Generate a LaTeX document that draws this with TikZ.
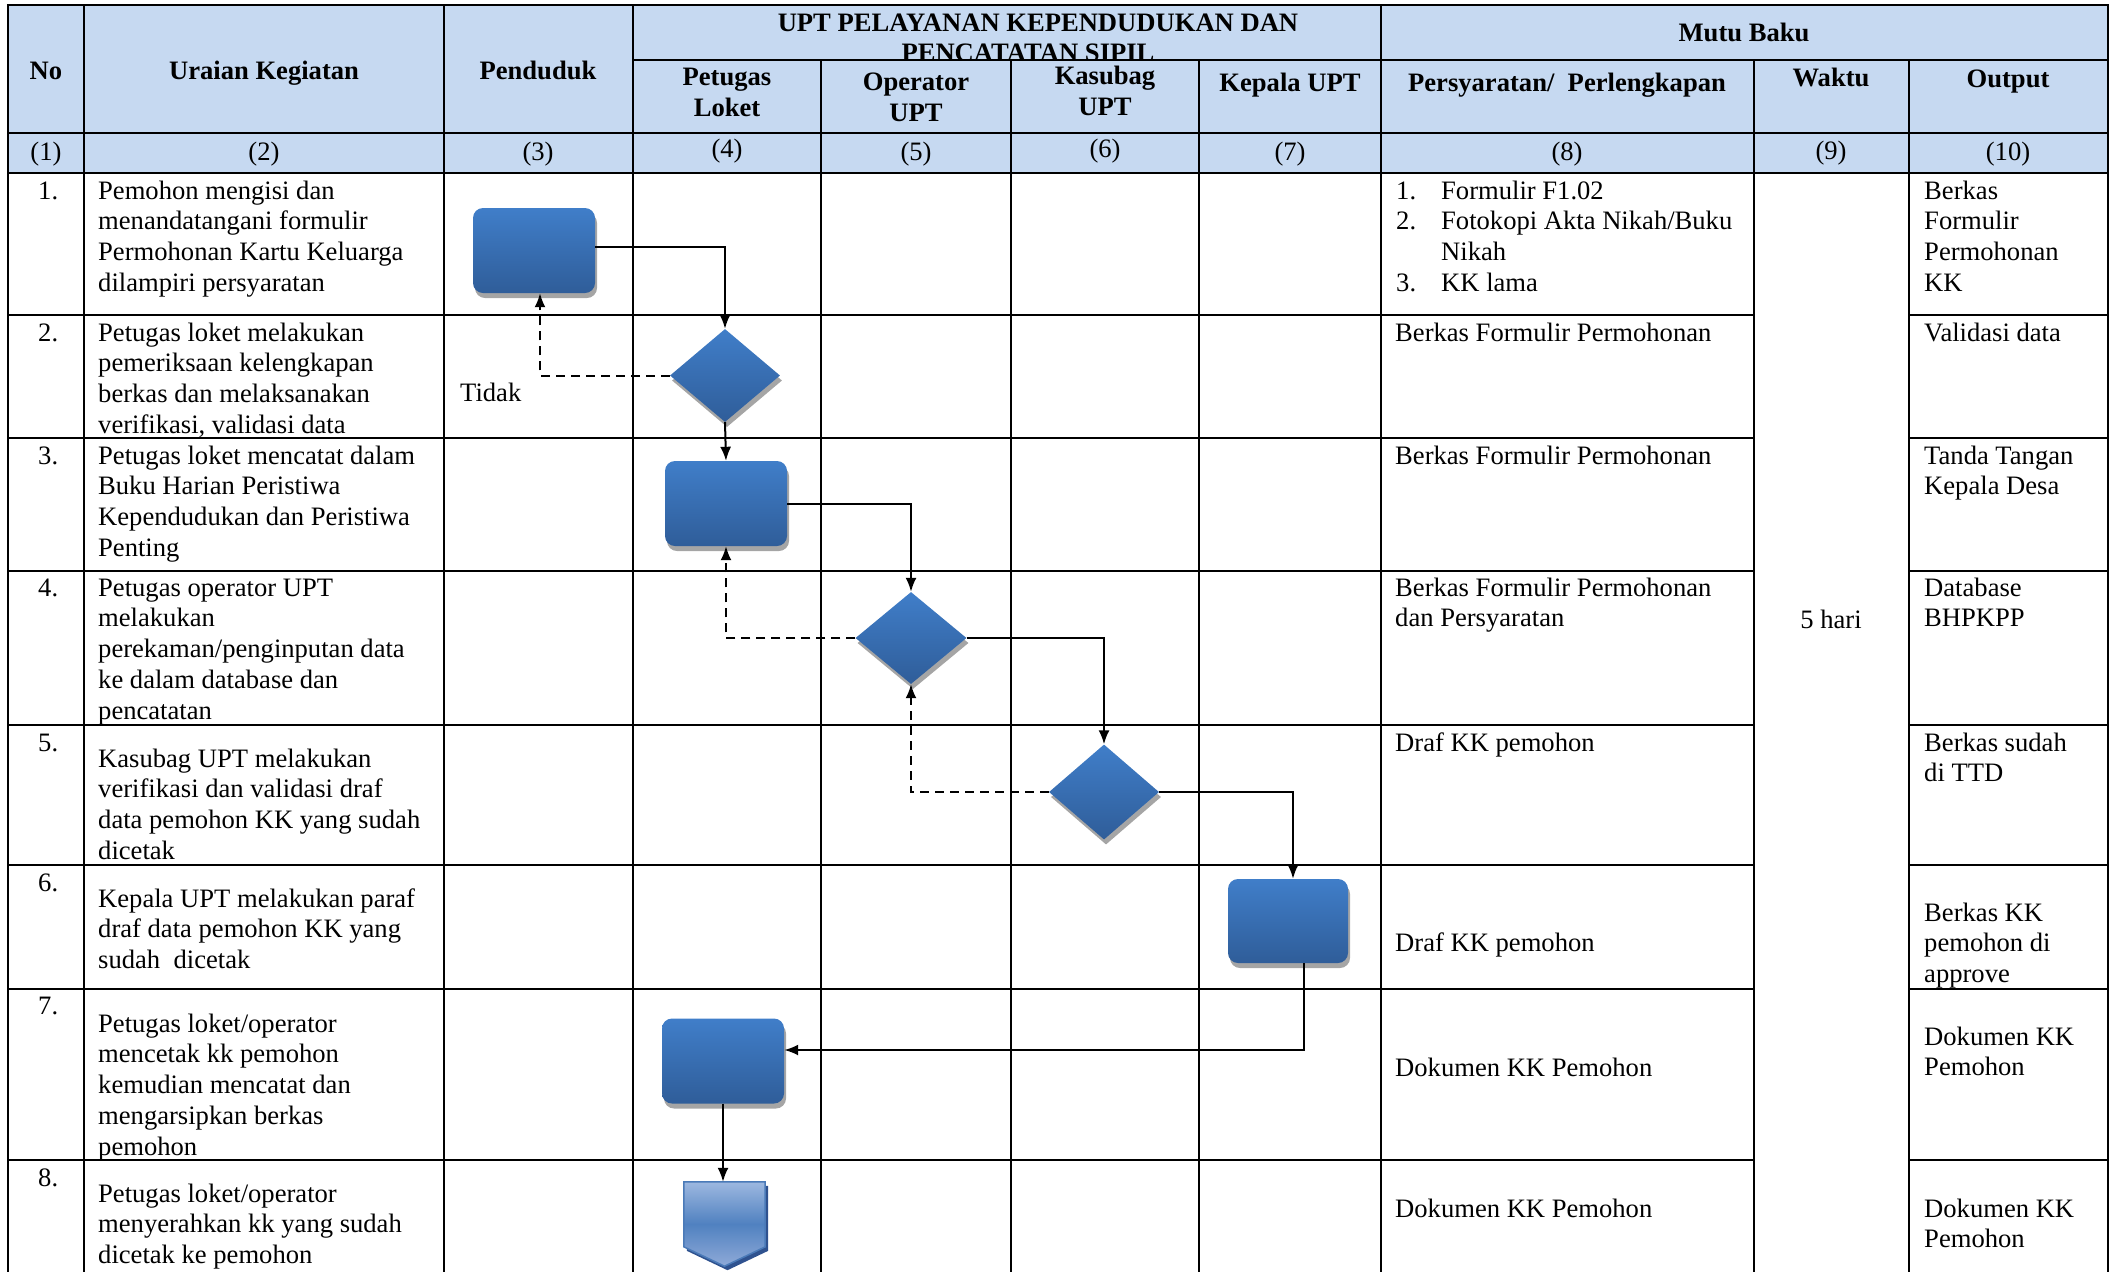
\documentclass[tikz,border=0pt]{standalone}
\usepackage{fontspec}
\setmainfont{Liberation Serif}
\usetikzlibrary{shapes.geometric,arrows.meta,shadows,calc}
\definecolor{hdr}{RGB}{198,217,241}
\definecolor{boxtop}{RGB}{64,126,201}
\definecolor{boxbot}{RGB}{47,93,153}
\definecolor{shadowgray}{RGB}{165,165,165}
\definecolor{penttop}{RGB}{157,184,224}
\definecolor{pentmid}{RGB}{80,129,192}
\definecolor{pentbot}{RGB}{143,170,216}
\definecolor{pentedge}{RGB}{74,122,184}
\definecolor{pentshadow}{RGB}{47,82,143}
\newcommand{\bodyfnt}{\fontsize{26.6}{30.7}\selectfont}
\newcommand{\headfnt}{\fontsize{26.6}{30.7}\selectfont\bfseries}
\newcommand{\fs}{\rule{0pt}{20pt}}
\begin{document}
\begin{tikzpicture}[x=1pt,y=-1pt,
  tline/.style={line width=2.2pt},
  conn/.style={line width=2pt,-{Latex[length=14pt,width=11pt]}},
  back/.style={line width=2pt,dash pattern=on 9pt off 6pt,-{Latex[length=14pt,width=11pt]}},
  proc/.style={rectangle,rounded corners=10pt,minimum width=122pt,minimum height=85pt,inner sep=0pt,
    top color=boxtop,bottom color=boxbot,
    drop shadow={shadow xshift=2pt,shadow yshift=-5pt,fill=shadowgray,opacity=1}},
  dec/.style={diamond,minimum width=110pt,minimum height=93pt,inner sep=0pt,
    top color=boxtop,bottom color=boxbot,
    drop shadow={shadow xshift=2pt,shadow yshift=-5pt,fill=shadowgray,opacity=1}},
  cell/.style={anchor=north west,align=left,inner sep=0pt,font=\bodyfnt},
  hd/.style={anchor=base,inner sep=0pt,font=\headfnt},
  num/.style={anchor=base,inner sep=0pt,font=\bodyfnt}
]
\useasboundingbox (0,0) rectangle (2116,1272);
% header background
\fill[hdr] (8,5) rectangle (2108,173);
% header texts
\node[hd] (hNo) at (46,79) {No};
\node[hd] (hUr) at (264,79) {Uraian Kegiatan};
\node[hd] (hPe) at (538,79) {Penduduk};
\begin{scope}
\clip (633,5) rectangle (1381,59);
\node[hd] (hUpt1) at (1038,31) {UPT PELAYANAN KEPENDUDUKAN DAN};
\node[hd] (hUpt2) at (1028,61.5) {PENCATATAN SIPIL};
\end{scope}
\node[hd] (hMutu) at (1744,41) {Mutu Baku};
\node[hd,align=center] (hPet) at (727,116) {Petugas\\Loket};
\node[hd,align=center] (hOp) at (916,121) {Operator\\UPT};
\node[hd,align=center] (hKas) at (1105,115) {Kasubag\\UPT};
\node[hd] (hKep) at (1290,91) {Kepala UPT};
\node[hd] (hPer) at (1567,91) {Persyaratan/\ \ Perlengkapan};
\node[hd] (hWak) at (1831,86) {Waktu};
\node[hd] (hOut) at (2008,87) {Output};
% number row
\node[num] (c1) at (46,160) {(1)};
\node[num] (c2) at (264,160) {(2)};
\node[num] (c3) at (538,160) {(3)};
\node[num] (c4) at (727,157) {(4)};
\node[num] (c5) at (916,160) {(5)};
\node[num] (c6) at (1105,157) {(6)};
\node[num] (c7) at (1290,160) {(7)};
\node[num] (c8) at (1567,160) {(8)};
\node[num] (c9) at (1831,159) {(9)};
\node[num] (c10) at (2008,160) {(10)};
% table lines
\foreach \x in {8,84,444,633,1381,2108} \draw[tline] (\x,5) -- (\x,1272);
\foreach \x in {821,1011,1199,1754,1909} \draw[tline] (\x,60) -- (\x,1272);
\draw[tline] (6.9,5) -- (2109.1,5);
\draw[tline] (633,60) -- (2108,60);
\draw[tline] (8,133) -- (2108,133);
\draw[tline] (8,173) -- (2108,173);
\foreach \y in {315,438,571,725,865,989,1160} {
  \draw[tline] (8,\y) -- (1754,\y);
  \draw[tline] (1909,\y) -- (2108,\y);
}
% row numbers
\node[cell] (n1) at (38,179) {\fs 1.};
\node[cell] (n2) at (38,321) {\fs 2.};
\node[cell] (n3) at (38,444) {\fs 3.};
\node[cell] (n4) at (38,576) {\fs 4.};
\node[cell] (n5) at (38,731) {\fs 5.};
\node[cell] (n6) at (38,871) {\fs 6.};
\node[cell] (n7) at (38,994) {\fs 7.};
\node[cell] (n8) at (38,1166) {\fs 8.};
% activity descriptions
\node[cell] (t1) at (98,179) {\fs Pemohon mengisi dan\\menandatangani formulir\\Permohonan Kartu Keluarga\\dilampiri persyaratan};
\node[cell] (t2) at (98,321) {\fs Petugas loket melakukan\\pemeriksaan kelengkapan\\berkas dan melaksanakan\\verifikasi, validasi data};
\node[cell] (t3) at (98,444) {\fs Petugas loket mencatat dalam\\Buku Harian Peristiwa\\Kependudukan dan Peristiwa\\Penting};
\node[cell] (t4) at (98,576) {\fs Petugas operator UPT\\melakukan\\perekaman/penginputan data\\ke dalam database dan\\pencatatan};
\node[cell] (t5) at (98,747) {\fs Kasubag UPT melakukan\\verifikasi dan validasi draf\\data pemohon KK yang sudah\\dicetak};
\node[cell] (t6) at (98,887) {\fs Kepala UPT melakukan paraf\\draf data pemohon KK yang\\sudah\ \ dicetak};
\node[cell] (t7) at (98,1012) {\fs Petugas loket/operator\\mencetak kk pemohon\\kemudian mencatat dan\\mengarsipkan berkas\\pemohon};
\node[cell] (t8) at (98,1182) {\fs Petugas loket/operator\\menyerahkan kk yang sudah\\dicetak ke pemohon};
% requirements
\node[cell] (r1) at (1396,179) {\fs\makebox[45pt][l]{1.}Formulir F1.02\\\makebox[45pt][l]{2.}Fotokopi Akta Nikah/Buku\\\hspace*{45pt}Nikah\\\makebox[45pt][l]{3.}KK lama};
\node[cell] (r2) at (1395,321) {\fs Berkas Formulir Permohonan};
\node[cell] (r3) at (1395,444) {\fs Berkas Formulir Permohonan};
\node[cell] (r4) at (1395,576) {\fs Berkas Formulir Permohonan\\dan Persyaratan};
\node[cell] (r5) at (1395,731) {\fs Draf KK pemohon};
\node[cell] (r6) at (1395,931) {\fs Draf KK pemohon};
\node[cell] (r7) at (1395,1056) {\fs Dokumen KK Pemohon};
\node[cell] (r8) at (1395,1197) {\fs Dokumen KK Pemohon};
% time
\node[num] (w1) at (1831,628) {5 hari};
% outputs
\node[cell] (o1) at (1924,179) {\fs Berkas\\Formulir\\Permohonan\\KK};
\node[cell] (o2) at (1924,321) {\fs Validasi data};
\node[cell] (o3) at (1924,444) {\fs Tanda Tangan\\Kepala Desa};
\node[cell] (o4) at (1924,576) {\fs Database\\BHPKPP};
\node[cell] (o5) at (1924,731) {\fs Berkas sudah\\di TTD};
\node[cell] (o6) at (1924,901) {\fs Berkas KK\\pemohon di\\approve};
\node[cell] (o7) at (1924,1025) {\fs Dokumen KK\\Pemohon};
\node[cell] (o8) at (1924,1197) {\fs Dokumen KK\\Pemohon};
% flow shapes
\node[proc] (box1) at (534,250.5) {};
\node[dec] (d1) at (725,375.5) {};
\node[proc] (box2) at (726,503.5) {};
\node[dec,minimum width=111pt,minimum height=92pt] (d2) at (911,638) {};
\node[dec,minimum height=95pt] (d3) at (1104,792) {};
\node[proc,minimum width=120pt,minimum height=84pt] (box3) at (1288,921) {};
\node[proc] (box4) at (723,1061) {};
\node[inner sep=0pt,minimum width=81pt,minimum height=84pt] (p8) at (724.5,1224) {};
\fill[pentshadow] ($(p8.north west)+(3,4)$) -- ($(p8.north east)+(3,4)$) -- ($(p8.north east)+(3,69)$) -- ($(p8.south)+(3,4)$) -- ($(p8.north west)+(3,69)$) -- cycle;
\shade[top color=penttop,bottom color=pentbot,middle color=pentmid] (p8.north west) -- (p8.north east) -- ($(p8.north east)+(0,65)$) -- (p8.south) -- ($(p8.north west)+(0,65)$) -- cycle;
\draw[pentedge,line width=1.5pt] (p8.north west) -- (p8.north east) -- ($(p8.north east)+(0,65)$) -- (p8.south) -- ($(p8.north west)+(0,65)$) -- cycle;
\node[num,anchor=base west] (tidak) at (460,401) {Tidak};
% connectors
\draw[conn] ([yshift=4pt]box1.east) -| (d1.north);
\draw[back] (d1.west) -| ([xshift=6pt]box1.south);
\draw[conn] (d1.south) -- (box2.north);
\draw[conn] (box2.east) -| (d2.north);
\draw[back] (d2.west) -| (box2.south);
\draw[conn] (d2.east) -| (d3.north);
\draw[back] (d3.west) -| (d2.south);
\draw[conn] (d3.east) -| ([xshift=5pt]box3.north);
\draw[conn] ([xshift=16pt]box3.south) |- ([yshift=11pt]box4.east);
\draw[conn] (box4.south) -- (box4.south |- p8.north);
\end{tikzpicture}
\end{document}
